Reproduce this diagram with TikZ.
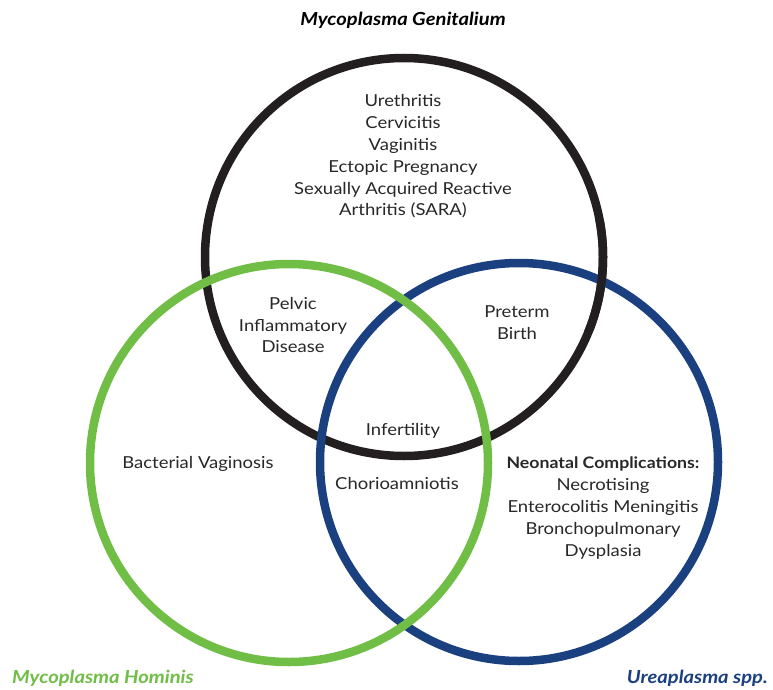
\documentclass[tikz,border=0pt]{standalone}
\usepackage{fontspec}
\setmainfont{Lato}[FakeStretch=1.12]
\definecolor{mgblack}{RGB}{35,31,32}
\definecolor{mhgreen}{RGB}{112,190,70}
\definecolor{ublue}{RGB}{27,64,128}
\definecolor{txt}{RGB}{40,40,40}
\tikzset{
  ring/.style={line width=8.5pt},
  lbl/.style={align=center, text=txt, inner sep=0pt,
    font=\fontsize{16.5}{21.8}\selectfont},
  species/.style={inner sep=0pt, font=\fontsize{18}{20}\selectfont\bfseries\itshape}
}
\begin{document}
\begin{tikzpicture}[x=1pt,y=-1pt]
\useasboundingbox[fill=white] (0,0) rectangle (773,690);
\coordinate (cG) at (404,257);
\coordinate (cH) at (289,463);
\coordinate (cU) at (519,462);
% rings: the black one passes over the blue one on the upper right
\draw[ring, mgblack] (cG) circle[radius=199];
\draw[ring, ublue] (cU) circle[radius=199];
\begin{scope}
  \clip (570,220) rectangle (660,330);
  \draw[ring, mgblack] (cG) circle[radius=199];
\end{scope}
\draw[ring, mhgreen] (cH) circle[radius=199];

% species names
\node[species, text=black] (tG) at (403,20) {Mycoplasma Genitalium};
\node[species, text=mhgreen, anchor=west] (tH) at (12,678) {Mycoplasma Hominis};
\node[species, text=ublue, anchor=east] (tU) at (768,678) {Ureaplasma spp.};

% region labels
\node[lbl] (gOnly) at (403,156.5) {Urethritis\\Cervicitis\\Vaginitis\\Ectopic Pregnancy\\Sexually Acquired Reactive\\Arthritis (SARA)};
\node[lbl] (gh) at (293,325) {Pelvic\\Inflammatory\\Disease};
\node[lbl] (gu) at (517,323) {Preterm\\Birth};
\node[lbl] (ghu) at (403,431) {Infertility};
\node[lbl] (hOnly) at (198,464) {Bacterial Vaginosis};
\node[lbl] (hu) at (397,483) {Chorioamniotis};
\node[lbl] (uOnly) at (603,508) {{\fontsize{15.8}{21.8}\selectfont\bfseries Neonatal Complications:}\\Necrotising\\Enterocolitis Meningitis\\Bronchopulmonary\\Dysplasia};
\end{tikzpicture}
\end{document}
